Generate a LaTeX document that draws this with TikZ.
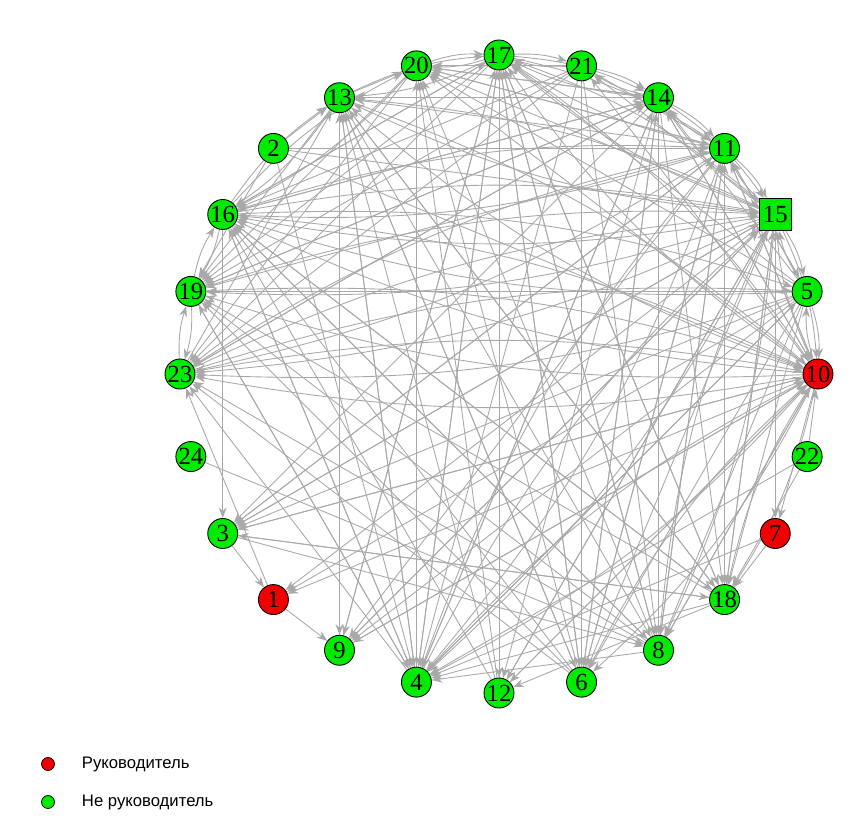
\documentclass[tikz,border=0pt]{standalone}
\usepackage{fontspec}
\setmainfont{Liberation Serif}
\newfontfamily\legendfont{Liberation Sans}
\usetikzlibrary{arrows.meta, positioning, backgrounds}
\definecolor{leadred}{RGB}{240,0,0}
\definecolor{plaingreen}{RGB}{0,235,0}
\definecolor{edgegray}{RGB}{169,169,169}

\begin{document}
\begin{tikzpicture}[
    x=0.02cm, y=0.02cm,
    vert/.style={circle, draw=black, line width=0.5pt, minimum size=0.6cm,
                 inner sep=0pt, font=\fontsize{14}{16}\selectfont},
    hubvert/.style={rectangle, draw=black, line width=0.5pt, minimum size=0.64cm,
                    inner sep=0pt, fill=plaingreen, font=\fontsize{14}{16}\selectfont},
    edge/.style={-{Stealth[length=6pt, width=4.5pt]}, draw=edgegray, line width=0.5pt},
    keydot/.style={circle, draw=black, line width=0.4pt, minimum size=0.26cm, inner sep=0pt},
    keytext/.style={font=\legendfont\fontsize{9.5}{11}\selectfont, inner sep=1pt}
  ]
    \useasboundingbox (0,0) rectangle (862,822);
    \coordinate (c) at (499,448);

    % vertices on the circle (name/angle/colour)
    \foreach \id/\ang/\col in {10/0/leadred, 5/15/plaingreen, 11/45/plaingreen,
        14/60/plaingreen, 21/75/plaingreen, 17/90/plaingreen, 20/105/plaingreen,
        13/120/plaingreen, 2/135/plaingreen, 16/150/plaingreen, 19/165/plaingreen,
        23/180/plaingreen, 24/195/plaingreen, 3/210/plaingreen, 1/225/leadred,
        9/240/plaingreen, 4/255/plaingreen, 12/270/plaingreen, 6/285/plaingreen,
        8/300/plaingreen, 18/315/plaingreen, 7/330/leadred, 22/345/plaingreen}
      \node[vert, fill=\col] (n\id) at ([shift={(\ang:319)}]c) {\id};
    \node[hubvert] (n15) at ([shift={(30:319)}]c) {15};

    \begin{scope}[on background layer]
      % one-way ties
      \foreach \s/\tlist in {15/{20,21,6,18,9,3,12,1,7},
          10/{20,14,11,8,9,3,1,12,7,21},
          11/{19,20,13,5,10,6,8,18,3,9},
          5/{19,17,20,14,11,4,6,8,3,9,18,1},
          14/{16,19,23,20,13,10,4,6,8,3,18,12},
          21/{20,11,16,23,4,19,6,8},
          17/{16,19,23,4,12,9,6,8,18},
          20/{19,23,14,11}, 13/{20,19,4,9,6,8,18,14},
          2/{13,15,11,10,19,4},
          16/{17,4,3,8,18,14}, 19/{4,14}, 23/{13,14}, 24/{8},
          3/{1,18,8,10,15,11}, 1/{9,23}, 9/{15,17,13,10},
          4/{17,13,16,19,20,23,14,5},
          12/{17,16,13,20,15,10}, 6/{17,23,19,16,13,20,14,11},
          8/{10,4,23,19,16,17,20,11}, 18/{11,4,12,16,19,13,17,15,3},
          7/{18,4}, 22/{18,10,4}}
        \foreach \t in \tlist
          \draw[edge] (n\s) -- (n\t);

      % mutual ties, bent apart
      \foreach \a/\b in {15/16, 15/19, 15/23, 10/16, 10/19, 10/23, 15/17, 10/17,
          11/16, 11/23, 15/11, 15/14, 15/5, 10/5, 15/10, 11/14, 17/14, 17/21,
          17/20, 13/17, 10/4, 15/4, 11/4, 10/6, 15/8, 10/18, 16/19, 19/23,
          16/13, 15/13, 10/13, 5/16, 5/23, 14/21, 11/17, 16/20}
      {
        \draw[edge] (n\a) to[bend left=10] (n\b);
        \draw[edge] (n\b) to[bend left=10] (n\a);
      }
    \end{scope}

    % legend
    \node[keydot, fill=leadred] (keylead) at (48,58) {};
    \node[keytext, right=0.5cm of keylead] (leadlabel) {Руководитель};
    \node[keydot, fill=plaingreen] (keyplain) at (48,20) {};
    \node[keytext, right=0.5cm of keyplain] (plainlabel) {Не руководитель};
  \end{tikzpicture}
\end{document}
